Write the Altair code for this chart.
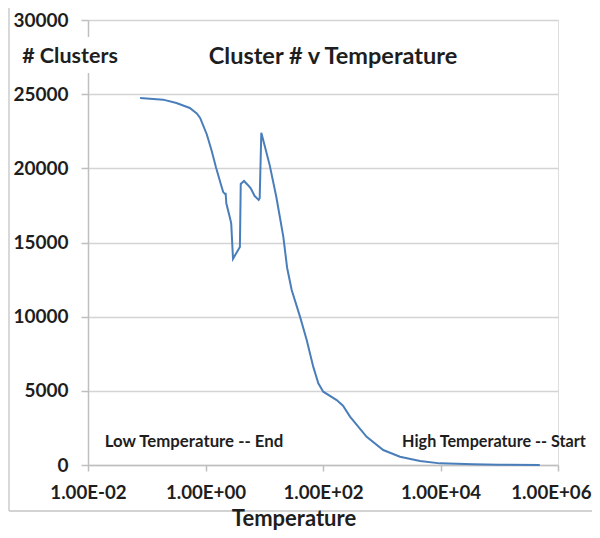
import altair as alt
import pandas as pd

# Temperature (log scale) and number of clusters
temperature = [0.077, 0.19, 0.32, 0.54, 0.71, 0.81, 1.05, 1.27, 1.51, 1.82,
               2.0, 2.17, 2.2, 2.26, 2.58, 2.74, 2.94, 3.85, 3.98, 4.52,
               5.25, 5.89, 6.87, 8.04, 8.36, 8.91, 10.2, 12.4, 16.0, 21.1,
               24.5, 29.3, 40.6, 52.8, 68.2, 83.2, 101, 171, 219, 288,
               553, 1060, 2040, 4470, 9770, 36300, 100000, 490000]
clusters = [24740, 24630, 24400, 24070, 23700, 23400, 22300, 21200, 20050, 18950,
            18400, 18250, 18350, 17640, 16740, 16290, 13900, 14700, 18950, 19150,
            18880, 18650, 18130, 17870, 17980, 22400, 21500, 20200, 18100, 15400,
            13300, 11800, 10000, 8430, 6630, 5510, 4940, 4380, 4000, 3260,
            1900, 1010, 560, 270, 110, 45, 20, 5]

x_ticks = [0.01, 1, 100, 10000, 1000000]
y_ticks = [0, 5000, 10000, 15000, 20000, 25000, 30000]

title_text = "Cluster # v Temperature"
y_label = "# Clusters"
x_label = "Temperature"
note_low = "Low Temperature -- End"
note_high = "High Temperature -- Start"

FONT = "Lato"
TXT = "#1e1e1e"

df = pd.DataFrame({"T": temperature, "N": clusters})

label_expr = ("'1.00E' + (round(log(datum.value)/LN10) < 0 ? '-' : '+') + "
              "(abs(round(log(datum.value)/LN10)) < 10 ? '0' : '') + "
              "abs(round(log(datum.value)/LN10))")

last_tick = "datum.value >= 999999"

base = alt.Chart(df)

line = base.mark_line(color="#4a7ebb", strokeWidth=2).encode(
    x=alt.X("T:Q", scale=alt.Scale(type="log", domain=[0.01, 1000000]),
            axis=alt.Axis(values=x_ticks, labelExpr=label_expr, title=None,
                          grid=False, domain=True, domainColor="#bfbfbf",
                          domainWidth=1.5, tickColor="#bfbfbf", tickWidth=1.5,
                          tickSize=6, labelFont=FONT, labelFontSize=18.7,
                          labelFontWeight="bold", labelColor=TXT,
                          labelPadding=12, labelFlush=False,
                          labelAlign={"condition": {"test": last_tick, "value": "right"},
                                      "value": "center"},
                          labelOffset={"condition": {"test": last_tick, "value": 33},
                                       "value": 0})),
    y=alt.Y("N:Q", scale=alt.Scale(domain=[0, 30000]),
            axis=alt.Axis(values=y_ticks, format="d", title=None,
                          grid=True, gridColor="#d4d4d4", gridWidth=1.6,
                          domain=True, domainColor="#bfbfbf", domainWidth=1.5,
                          tickColor="#bfbfbf", tickWidth=1.5, tickSize=7,
                          labelFont=FONT, labelFontSize=19,
                          labelFontWeight="bold", labelColor=TXT,
                          labelPadding=13)),
    order="T:Q",
)

# white gap in the y axis line behind "# Clusters"
gap = alt.Chart(pd.DataFrame({"a": [0]})).mark_rect(color="white").encode(
    x=alt.value(-4), x2=alt.value(4), y=alt.value(17), y2=alt.value(53))

frame_df = pd.DataFrame({"a": [0]})
frame_left = alt.Chart(frame_df).mark_rule(color="#c4c4c4", strokeWidth=1.3).encode(
    x=alt.value(-79), y=alt.value(-20), y2=alt.value(491))
frame_bottom = alt.Chart(frame_df).mark_rule(color="#c4c4c4", strokeWidth=1.3).encode(
    x=alt.value(-79), x2=alt.value(504), y=alt.value(491))

def label(text, x, y, size, baseline="middle"):
    return alt.Chart(pd.DataFrame({"t": [text]})).mark_text(
        font=FONT, fontSize=size, fontWeight="bold", color=TXT,
        align="center", baseline=baseline).encode(
        text="t:N", x=alt.value(x), y=alt.value(y))

chart = alt.layer(
    frame_left, frame_bottom, line, gap,
    label(y_label, -18, 37, 21.5),
    label(title_text, 245, 37, 23.5),
    label(note_low, 106, 422, 16.8),
    label(note_high, 406, 422, 16.2),
    label(x_label, 206, 506, 22, "alphabetic"),
).properties(
    width=470, height=445,
    padding={"left": 80, "top": 12, "right": 34, "bottom": 65},
    autosize=alt.AutoSizeParams(type="none"),
).configure_view(stroke=None).configure(background="white")

chart.save("out.html", embed_options={"renderer": "svg", "actions": False})
